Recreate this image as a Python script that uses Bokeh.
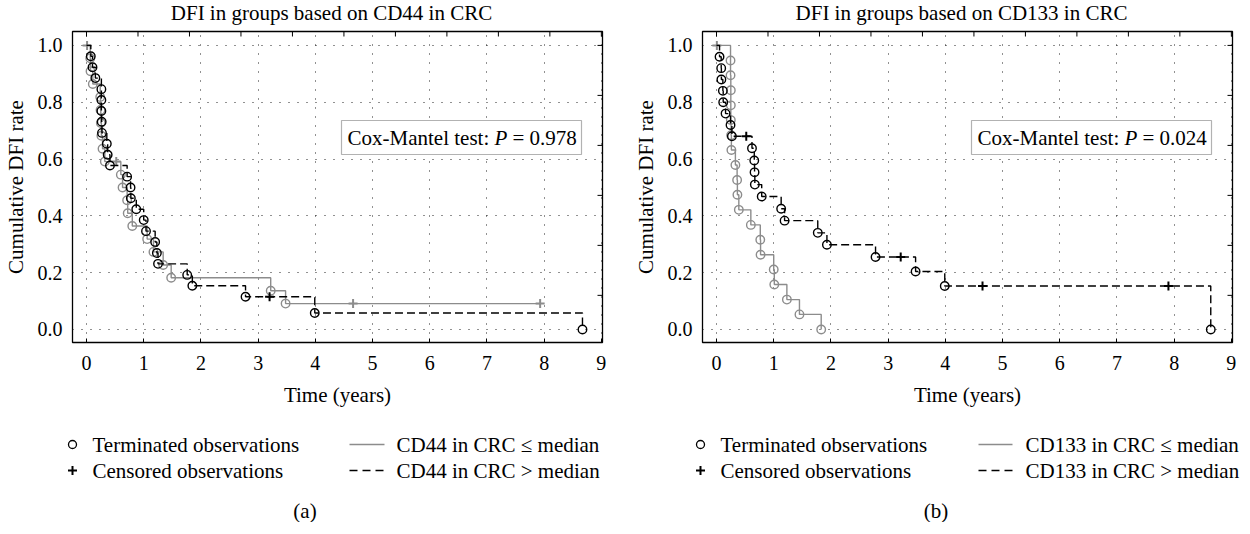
import math
from bokeh.plotting import figure
from bokeh.layouts import row, column
from bokeh.models import Range1d, FixedTicker, PrintfTickFormatter, Label, BoxAnnotation
from bokeh.embed import file_html
from bokeh.resources import INLINE
from bokeh.core.properties import value

# ---------------- data ----------------
x_ticks = [0, 1, 2, 3, 4, 5, 6, 7, 8, 9]
y_ticks = [0.0, 0.2, 0.4, 0.6, 0.8, 1.0]
top_ticks = [0.0, 0.9, 1.8, 2.7, 3.6, 4.5, 5.4, 6.3, 7.2, 8.1, 9.0]
right_ticks = [1.0, 0.824, 0.648, 0.472, 0.296, 0.12]

titles = ["DFI in groups based on CD44 in CRC", "DFI in groups based on CD133 in CRC"]
p_values = ["0.978", "0.024"]
captions = ["(a)", "(b)"]
marker_labels = ["Terminated observations", "Censored observations"]
group_labels_a = ["CD44 in CRC \u2264 median", "CD44 in CRC > median"]
group_labels_b = ["CD133 in CRC \u2264 median", "CD133 in CRC > median"]

# Panel (a): CD44 <= median (grey, solid)
cd44_low_time = [0.01, 0.065, 0.07, 0.11, 0.24, 0.245, 0.25, 0.26, 0.28, 0.32, 0.52,
                 0.60, 0.63, 0.71, 0.72, 0.80, 1.06, 1.17, 1.34, 1.48, 3.22, 3.48, 4.66, 7.93]
cd44_low_surv = [1.0, 0.955, 0.909, 0.864, 0.818, 0.773, 0.727, 0.682, 0.636, 0.591, 0.591,
                 0.545, 0.5, 0.455, 0.409, 0.364, 0.318, 0.273, 0.227, 0.182, 0.136, 0.091, 0.091, 0.091]
cd44_low_event = [0, 1, 1, 1, 1, 1, 1, 1, 1, 1, 0,
                  1, 1, 1, 1, 1, 1, 1, 1, 1, 1, 1, 0, 0]

# Panel (a): CD44 > median (black, dashed)
cd44_high_time = [0.075, 0.105, 0.155, 0.26, 0.26, 0.26, 0.265, 0.27, 0.355, 0.37, 0.41,
                  0.71, 0.77, 0.775, 0.87, 1.0, 1.04, 1.2, 1.23, 1.25, 1.76, 1.85, 2.78, 3.2, 3.99, 8.67]
cd44_high_surv = [0.962, 0.923, 0.885, 0.846, 0.808, 0.769, 0.731, 0.692, 0.654, 0.615, 0.577,
                  0.538, 0.5, 0.462, 0.423, 0.385, 0.346, 0.308, 0.269, 0.231, 0.192, 0.154, 0.115, 0.115, 0.058, 0.0]
cd44_high_event = [1, 1, 1, 1, 1, 1, 1, 1, 1, 1, 1,
                   1, 1, 1, 1, 1, 1, 1, 1, 1, 1, 1, 1, 0, 1, 1]

# Panel (b): CD133 <= median (grey, solid)
cd133_low_time = [0.006, 0.245, 0.245, 0.25, 0.25, 0.25, 0.255, 0.26, 0.33, 0.36, 0.365, 0.39,
                  0.60, 0.765, 0.77, 1.0, 1.01, 1.23, 1.45, 1.83]
cd133_low_surv = [1.0, 0.947, 0.895, 0.842, 0.789, 0.737, 0.684, 0.632, 0.579, 0.526, 0.474, 0.421,
                  0.368, 0.316, 0.263, 0.211, 0.158, 0.105, 0.053, 0.0]
cd133_low_event = [0, 1, 1, 1, 1, 1, 1, 1, 1, 1, 1, 1,
                   1, 1, 1, 1, 1, 1, 1, 1]

# Panel (b): CD133 > median (black, dashed)
cd133_high_time = [0.053, 0.082, 0.085, 0.111, 0.117, 0.158, 0.245, 0.269, 0.52, 0.62, 0.66, 0.665,
                   0.67, 0.79, 1.13, 1.19, 1.77, 1.93, 2.78, 3.22, 3.48, 3.99, 4.65, 7.9, 8.64]
cd133_high_surv = [0.96, 0.92, 0.88, 0.84, 0.80, 0.76, 0.72, 0.68, 0.68, 0.638, 0.595, 0.553,
                   0.51, 0.468, 0.425, 0.383, 0.34, 0.298, 0.255, 0.255, 0.204, 0.153, 0.153, 0.153, 0.0]
cd133_high_event = [1, 1, 1, 1, 1, 1, 1, 1, 0, 1, 1, 1,
                    1, 1, 1, 1, 1, 1, 1, 0, 1, 1, 0, 0, 1]

# ---------------- style / layout ----------------
FONT = "Liberation Serif"
GREY = "#8c8c8c"
FW, FH = 530, 311
X0, X1 = -0.245, 9.02
Y0, Y1 = -0.046, 1.049
TICK_FS = "20px"
FS = "21px"
LEFT = 66
TOP_H = 29          # title strip height
BOTTOM_B = 76       # space for x tick labels + axis label
LEG_H = 522 - TOP_H - 2 - FH - BOTTOM_B


def px_x(px):
    return X0 + px * (X1 - X0) / FW


def px_y(px_from_top):
    return Y1 - px_from_top * (Y1 - Y0) / FH


def draw_group(p, t, s, ev, color, dash):
    xs = [0.0] + list(t)
    ys = [1.0] + list(s)
    p.step(xs, ys, mode="after", line_color=color, line_width=1.4, line_dash=dash)
    ex = [a for a, e in zip(t, ev) if e == 1]
    ey = [b for b, e in zip(s, ev) if e == 1]
    cx = [a for a, e in zip(t, ev) if e == 0]
    cy = [b for b, e in zip(s, ev) if e == 0]
    p.scatter(ex, ey, marker="circle", size=8.5, fill_color=None, line_color=color, line_width=1.4)
    p.scatter(cx, cy, marker="cross", size=9, line_color=color, line_width=2)


def make_title(width, text, cx):
    t = figure(width=width, height=TOP_H, x_range=Range1d(0, width), y_range=Range1d(0, TOP_H),
               output_backend="svg", toolbar_location=None, title=None,
               x_axis_type=None, y_axis_type=None, min_border=0, outline_line_color=None,
               frame_align=False)
    t.text(x=[cx], y=[TOP_H - 12], text=[text], text_font=value(FONT), text_font_size=value(FS),
           text_align="center", text_baseline="middle", text_color="black")
    return t


def make_panel(low, high, pval, border_right):
    p = figure(frame_width=FW, frame_height=FH, x_range=Range1d(X0, X1), y_range=Range1d(Y0, Y1),
               output_backend="svg", toolbar_location=None, title=None,
               min_border_left=LEFT, min_border_right=border_right, min_border_top=2,
               min_border_bottom=BOTTOM_B,
               outline_line_color="black", outline_line_width=1.3,
               x_axis_label="Time (years)", y_axis_label="Cumulative DFI rate",
               background_fill_color="white", border_fill_color="white", frame_align=False)
    xa = p.xaxis[0]
    xa.ticker = FixedTicker(ticks=x_ticks)
    xa.major_tick_in = 4
    xa.major_tick_out = 0
    xa.major_label_standoff = 13
    xa.axis_label_standoff = 10
    ya = p.yaxis[0]
    ya.ticker = FixedTicker(ticks=y_ticks)
    ya.formatter = PrintfTickFormatter(format="%.1f")
    ya.major_tick_in = 0
    ya.major_tick_out = 0
    ya.major_label_standoff = 10
    ya.axis_label_standoff = 7
    for ax in (xa, ya):
        ax.axis_line_color = None
        ax.minor_tick_line_color = None
        ax.major_tick_line_color = "black"
        ax.major_label_text_font = FONT
        ax.major_label_text_font_size = TICK_FS
        ax.major_label_text_color = "black"
        ax.axis_label_text_font = FONT
        ax.axis_label_text_font_size = FS
        ax.axis_label_text_font_style = "normal"
        ax.axis_label_text_color = "black"

    for g in (p.xgrid[0], p.ygrid[0]):
        g.grid_line_color = "#222222"
        g.grid_line_dash = "1 8"
        g.grid_line_width = 1

    # inward ticks on the top and right frame edges (half of each dash lies inside the frame)
    p.scatter(top_ticks, [Y1] * len(top_ticks), marker="dash", angle=math.pi / 2, size=10,
              line_color="black", line_width=1)
    p.scatter([X1] * len(right_ticks), right_ticks, marker="dash", size=10,
              line_color="black", line_width=1)

    draw_group(p, *low, GREY, "solid")
    draw_group(p, *high, "black", "8 4")

    # Cox-Mantel test box
    box = BoxAnnotation(left=px_x(269), right=px_x(509), top=px_y(89), bottom=px_y(123),
                        fill_color="white", fill_alpha=1.0, line_color="black", line_width=1.2)
    p.add_layout(box)
    ty = FH - 106
    p.add_layout(Label(x=275, y=ty, x_units="screen", y_units="screen", text="Cox-Mantel test:",
                       text_baseline="middle", text_font=FONT, text_font_size=FS, text_color="black"))
    p.add_layout(Label(x=422, y=ty, x_units="screen", y_units="screen", text="P",
                       text_baseline="middle", text_font=FONT, text_font_style="italic",
                       text_font_size=FS, text_color="black"))
    p.add_layout(Label(x=440, y=ty, x_units="screen", y_units="screen", text="= " + pval,
                       text_baseline="middle", text_font=FONT, text_font_size=FS, text_color="black"))
    return p


def make_legend(width, group_labels, caption, caption_x, sym_x, txt1_x, line_x0, line_x1, txt2_x):
    H = LEG_H
    lg = figure(width=width, height=H, x_range=Range1d(0, width), y_range=Range1d(0, H),
                output_backend="svg", toolbar_location=None, title=None,
                x_axis_type=None, y_axis_type=None, min_border=0, outline_line_color=None,
                frame_align=False)
    r1 = H - (452 - (8 + TOP_H + 2 + FH + BOTTOM_B))
    r2 = r1 - 26
    lg.scatter([sym_x], [r1], marker="circle", size=8, fill_color=None, line_color="black", line_width=1.3)
    lg.scatter([sym_x], [r2], marker="cross", size=9, line_color="black", line_width=2)
    lg.line([line_x0, line_x1], [r1, r1], line_color=GREY, line_width=1.4)
    lg.line([line_x0, line_x1], [r2, r2], line_color="black", line_width=1.4, line_dash="8 5")
    lg.text(x=[txt1_x, txt1_x, txt2_x, txt2_x], y=[r1, r2, r1, r2],
            text=[marker_labels[0], marker_labels[1], group_labels[0], group_labels[1]],
            text_font=value(FONT), text_font_size=value(FS), text_baseline="middle",
            text_align="left", text_color="black")
    lg.text(x=[caption_x], y=[12], text=[caption], text_font=value(FONT), text_font_size=value(FS),
            text_baseline="middle", text_align="center", text_color="black")
    return lg


WA, WB = 624, 618
ta = make_title(WA, titles[0], LEFT + FW / 2)
tb = make_title(WB, titles[1], LEFT + FW / 2)
pa = make_panel((cd44_low_time, cd44_low_surv, cd44_low_event),
                (cd44_high_time, cd44_high_surv, cd44_high_event), p_values[0], WA - LEFT - FW)
pb = make_panel((cd133_low_time, cd133_low_surv, cd133_low_event),
                (cd133_high_time, cd133_high_surv, cd133_high_event), p_values[1], WB - LEFT - FW)
la = make_legend(WA, group_labels_a, captions[0], 304.5, 72, 92, 349, 384, 396)
lb = make_legend(WB, group_labels_b, captions[1], 305.5, 70, 90, 348, 382, 395)

layout = row(column(ta, pa, la), column(tb, pb, lb))
open("out.html", "w").write(file_html(layout, INLINE))
